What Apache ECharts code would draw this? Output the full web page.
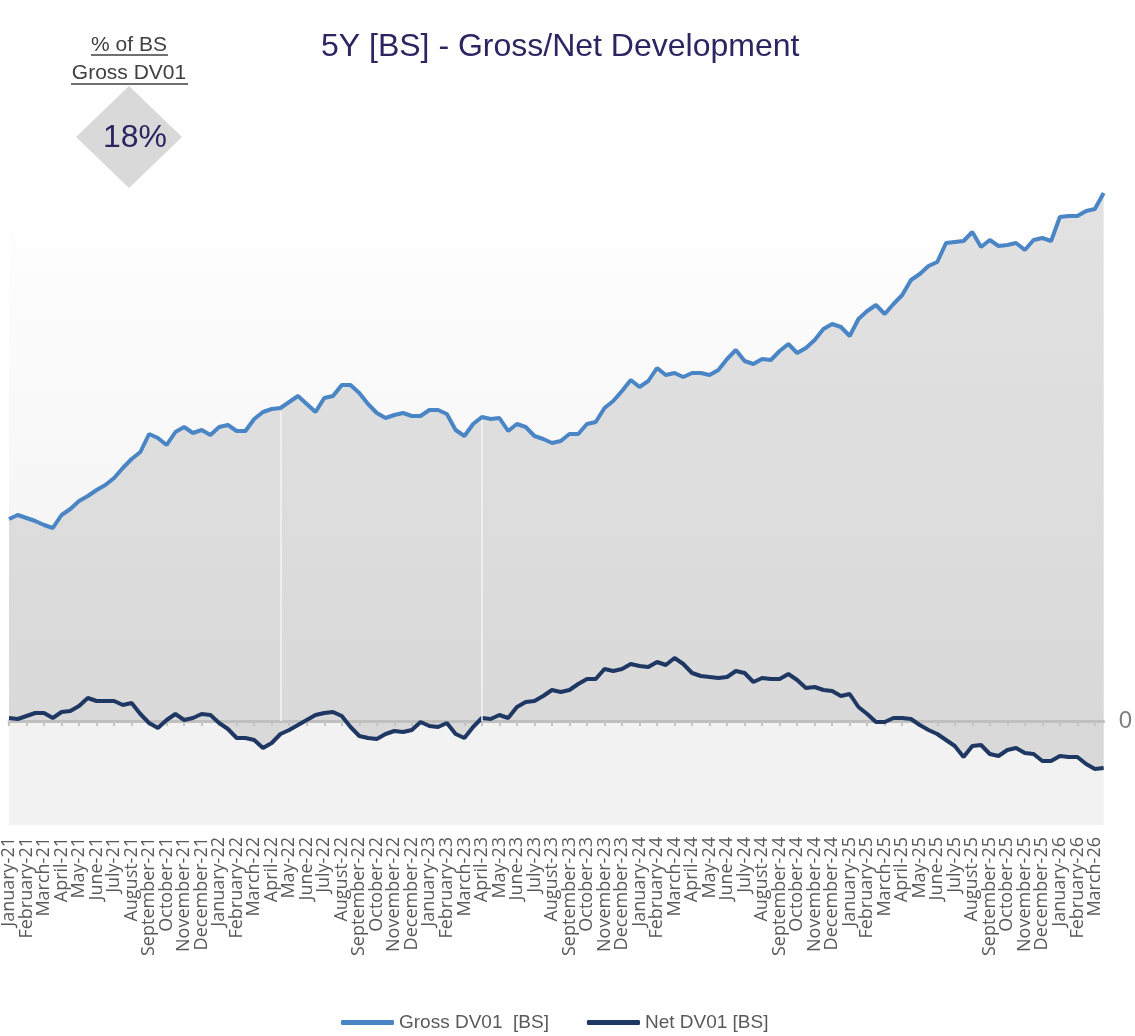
<!DOCTYPE html>
<html>
<head>
<meta charset="utf-8">
<title>5Y [BS] - Gross/Net Development</title>
<script src="https://cdn.jsdelivr.net/npm/echarts@6.0.0/dist/echarts.min.js"></script>
<style>
    html, body { margin: 0; padding: 0; background: #ffffff; }
    #chart { width: 1135px; height: 1036px; }
</style>
</head>
<body>
<div id="chart"></div>
<script>
// month tick labels (one label per month, two observations per month)
var monthLabels = [
    'January-21', 'February-21', 'March-21', 'April-21', 'May-21', 'June-21',
    'July-21', 'August-21', 'September-21', 'October-21', 'November-21', 'December-21',
    'January-22', 'February-22', 'March-22', 'April-22', 'May-22', 'June-22',
    'July-22', 'August-22', 'September-22', 'October-22', 'November-22', 'December-22',
    'January-23', 'February-23', 'March-23', 'April-23', 'May-23', 'June-23',
    'July-23', 'August-23', 'September-23', 'October-23', 'November-23', 'December-23',
    'January-24', 'February-24', 'March-24', 'April-24', 'May-24', 'June-24',
    'July-24', 'August-24', 'September-24', 'October-24', 'November-24', 'December-24',
    'January-25', 'February-25', 'March-25', 'April-25', 'May-25', 'June-25',
    'July-25', 'August-25', 'September-25', 'October-25', 'November-25', 'December-25',
    'January-26', 'February-26', 'March-26'
];

// Gross DV01 [BS] (start and middle of each month)
var grossDV01 = [
    202, 206, 203, 200, 196, 193, 206, 212, 220, 225,
    231, 236, 243, 253, 262, 269, 287, 283, 276, 289,
    294, 288, 291, 286, 294, 296, 290, 290, 302, 309,
    312, 313, 319, 325, 317, 309, 323, 325, 336, 336,
    328, 317, 308, 303, 306, 308, 305, 305, 311, 311,
    307, 291, 285, 297, 304, 302, 303, 290, 297, 294,
    285, 282, 278, 280, 287, 287, 297, 299, 313, 320,
    330, 341, 334, 340, 353, 346, 348, 344, 348, 348,
    346, 351, 362, 371, 360, 357, 362, 361, 370, 377,
    368, 373, 381, 392, 397, 394, 385, 402, 410, 416,
    407, 417, 426, 441, 447, 455, 459, 478, 479, 480,
    489, 474, 481, 475, 476, 478, 471, 481, 483, 480,
    504, 505, 505, 510, 512, 528
];

// Net DV01 [BS]
var netDV01 = [
    3, 2, 5, 8, 8, 3, 9, 10, 15, 23,
    20, 20, 20, 16, 18, 7, -2, -7, 1, 7,
    1, 3, 7, 6, -2, -8, -17, -17, -19, -27,
    -22, -13, -9, -4, 1, 6, 8, 9, 5, -6,
    -15, -17, -18, -13, -10, -11, -9, -1, -5, -6,
    -2, -13, -17, -6, 3, 2, 6, 3, 14, 19,
    20, 25, 31, 29, 31, 37, 42, 42, 52, 50,
    52, 57, 55, 54, 59, 56, 63, 57, 48, 45,
    44, 43, 44, 50, 48, 39, 43, 42, 42, 47,
    41, 33, 34, 31, 30, 25, 27, 14, 7, -1,
    -1, 3, 3, 2, -4, -9, -13, -19, -25, -36,
    -25, -24, -33, -35, -29, -27, -32, -33, -40, -40,
    -35, -36, -36, -43, -48, -47
];

var shareOfGross = '18%';

// positions where the area shows a thin white gap
var gapIndex = [31, 54];

var yMin = -104, yMax = 539;

var categories = [];
monthLabels.forEach(function (m) {
    categories.push(m);
    categories.push(m + ' mid');
});

var myChart = echarts.init(document.getElementById('chart'));

var navy = '#2b2661';
var textGray = '#595959';

// month labels are split over two axes (every other month each),
// so neighbouring labels never collide and none gets hidden
function labelAxis(start) {
    return {
        type: 'category',
        position: 'bottom',
        boundaryGap: false,
        data: categories,
        axisLine: { show: false, onZero: false },
        axisTick: { show: false },
        axisLabel: {
            rotate: 90,
            margin: 12,
            interval: function (idx) { return idx % 4 === start; },
            fontSize: 18,
            color: textGray,
            fontFamily: 'Open Sans'
        }
    };
}

myChart.setOption({
    animation: false,
    backgroundColor: '#ffffff',
    textStyle: { fontFamily: 'Liberation Sans' },
    title: {
        text: '5Y [BS] - Gross/Net Development',
        left: 316,
        top: 26,
        textStyle: { fontSize: 32, fontWeight: 'normal', color: navy, fontFamily: 'Liberation Sans' }
    },
    legend: {
        data: ['Gross DV01  [BS]', 'Net DV01 [BS]'],
        left: 336,
        top: 1008,
        icon: 'roundRect',
        itemWidth: 53,
        itemHeight: 5,
        itemGap: 38,
        textStyle: { fontSize: 19, color: textGray, fontFamily: 'Liberation Sans' }
    },
    grid: {
        left: 5,
        right: 31,
        top: 182,
        bottom: 211,
        show: true,
        borderWidth: 0,
        backgroundColor: {
            type: 'linear', x: 0, y: 0, x2: 0, y2: 1,
            colorStops: [
                {offset: 0, color: '#ffffff'},
                {offset: 0.838, color: '#f1f1f1'},
                {offset: 0.838, color: '#f2f2f2'},
                {offset: 1, color: '#f2f2f2'}
            ]
        }
    },
    xAxis: [
        labelAxis(0),
        {
            // zero line with monthly ticks, lifted from the bottom to the value 0
            type: 'category',
            position: 'bottom',
            boundaryGap: false,
            data: categories,
            offset: yMin,
            z: 2.5,
            axisLine: { show: true, onZero: false, lineStyle: { color: '#bfbfbf', width: 3 } },
            axisTick: {
                show: true,
                length: 5,
                interval: function (idx) { return idx % 2 === 0; },
                lineStyle: { color: '#c4c4c4', width: 2 }
            },
            axisLabel: { show: false }
        },
        labelAxis(2)
    ],
    yAxis: {
        type: 'value',
        position: 'right',
        min: yMin,
        max: yMax,
        interval: 104,
        splitLine: { show: false },
        axisLine: { show: false },
        axisTick: { show: false },
        axisLabel: {
            margin: 15,
            fontSize: 24,
            color: '#7f7f7f',
            showMaxLabel: false,
            formatter: function (v) { return v === 0 ? '0' : ''; }
        }
    },
    graphic: [
        {
            type: 'text',
            style: { x: 129, y: 45, text: '% of BS', fill: '#404040', fontSize: 21, fontFamily: 'Liberation Sans', align: 'center', verticalAlign: 'middle' }
        },
        {
            type: 'text',
            style: { x: 129, y: 73, text: 'Gross DV01', fill: '#404040', fontSize: 21, fontFamily: 'Liberation Sans', align: 'center', verticalAlign: 'middle' }
        },
        { type: 'line', shape: { x1: 91, y1: 55, x2: 168, y2: 55 }, style: { stroke: '#404040', lineWidth: 1.3 } },
        { type: 'line', shape: { x1: 71, y1: 84, x2: 188, y2: 84 }, style: { stroke: '#404040', lineWidth: 1.3 } },
        {
            type: 'polygon',
            shape: { points: [[129, 86], [182, 137], [129, 188], [76, 137]] },
            style: { fill: '#d9d9d9' }
        },
        {
            type: 'text',
            style: { x: 135, y: 138, text: shareOfGross, fill: navy, fontSize: 32, fontFamily: 'Liberation Sans', align: 'center', verticalAlign: 'middle' },
            z: 10
        }
    ],
    series: [
        {
            name: 'Net area',
            type: 'line',
            data: netDV01,
            showSymbol: false,
            silent: true,
            lineStyle: { width: 0 },
            areaStyle: { color: '#d9d9d9', opacity: 1 },
            z: 1
        },
        {
            name: 'Gross DV01  [BS]',
            type: 'line',
            data: grossDV01,
            showSymbol: false,
            color: '#4a85c5',
            lineStyle: { width: 4, color: '#4a85c5' },
            areaStyle: {
                opacity: 1,
                color: {
                    type: 'linear', x: 0, y: 0, x2: 0, y2: 1,
                    colorStops: [
                        {offset: 0, color: '#e2e2e2'},
                        {offset: 1, color: '#d9d9d9'}
                    ]
                }
            },
            markLine: {
                silent: true,
                symbol: 'none',
                label: { show: false },
                lineStyle: { color: '#f4f4f4', width: 1.5, type: 'solid' },
                data: gapIndex.map(function (i) {
                    return [{coord: [i, 0]}, {coord: [i, grossDV01[i] - 4]}];
                })
            },
            z: 2
        },
        {
            name: 'Net DV01 [BS]',
            type: 'line',
            data: netDV01,
            showSymbol: false,
            color: '#1f3763',
            lineStyle: { width: 4, color: '#1f3763' },
            z: 3
        }
    ]
});
</script>
</body>
</html>
